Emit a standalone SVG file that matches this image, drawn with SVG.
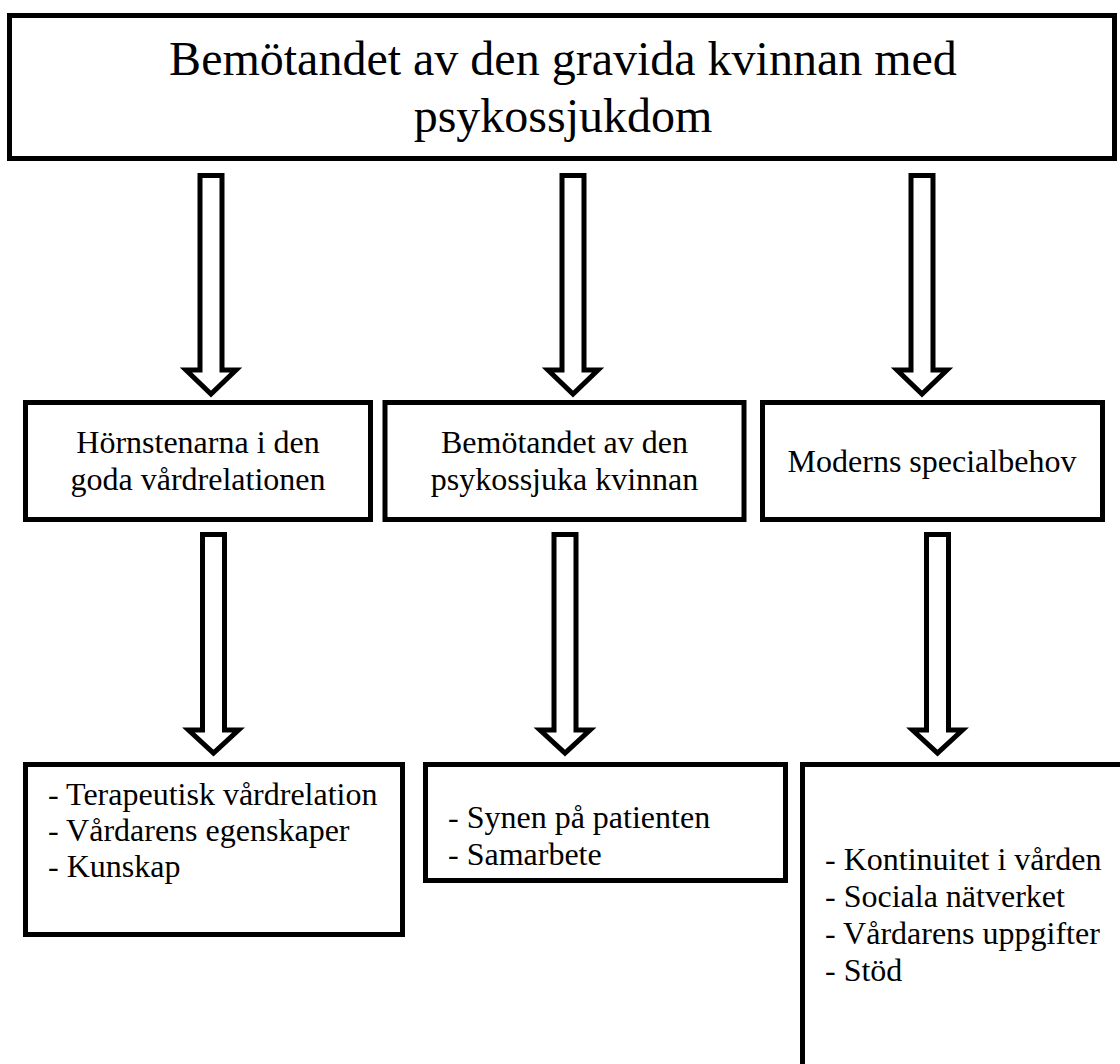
<svg xmlns="http://www.w3.org/2000/svg" width="1120" height="1064" viewBox="0 0 1120 1064">
<style>
.box{fill:#fff;stroke:#000;stroke-width:5}
.arr{fill:#fff;stroke:#000;stroke-width:5;stroke-linejoin:miter}
text{font-family:'Liberation Serif','Times New Roman',Tinos,serif;fill:#000;font-size:32px}
.c{text-anchor:middle}
.big{font-size:48px}
</style>
<rect width="1120" height="1064" fill="#fff"/>
<g id="title">
<rect class="box" x="9.5" y="15.5" width="1105" height="143"/>
<text class="big c" x="563" y="75" font-family="Liberation Serif, serif">Bemötandet av den gravida kvinnan med</text>
<text class="big c" x="563" y="132" font-family="Liberation Serif, serif">psykossjukdom</text>
</g>
<g id="connectors">
<path class="arr" d="M200,175.5H222V370H236L211,394L186,370H200Z"/>
<path class="arr" d="M562,175.5H584V370H598L573,394L548,370H562Z"/>
<path class="arr" d="M911,175.5H933V370H947L922,394L897,370H911Z"/>
<path class="arr" d="M202.5,534.5H224.5V730H238.5L213.5,753L188.5,730H202.5Z"/>
<path class="arr" d="M554,534.5H576V730H590L565,753L540,730H554Z"/>
<path class="arr" d="M926.5,534.5H948.5V730H962.5L937.5,753L912.5,730H926.5Z"/>
</g>
<g id="n1">
<rect class="box" x="25.5" y="402.5" width="345" height="117"/>
<text class="c" x="198" y="453">Hörnstenarna i den</text>
<text class="c" x="198" y="490">goda vårdrelationen</text>
</g>
<g id="n2">
<rect class="box" x="385" y="402.5" width="359" height="117"/>
<text class="c" x="564.5" y="453">Bemötandet av den</text>
<text class="c" x="564.5" y="490">psykossjuka kvinnan</text>
</g>
<g id="n3">
<rect class="box" x="762.5" y="402.5" width="340" height="117"/>
<text class="c" x="932" y="472">Moderns specialbehov</text>
</g>
<g id="n4">
<rect class="box" x="25.5" y="764.5" width="377" height="170"/>
<text x="48" y="805">- Terapeutisk vårdrelation</text>
<text x="48" y="841">- Vårdarens egenskaper</text>
<text x="48" y="877">- Kunskap</text>
</g>
<g id="n5">
<rect class="box" x="425.5" y="764.5" width="360" height="116"/>
<text x="448" y="828">- Synen på patienten</text>
<text x="448" y="865">- Samarbete</text>
</g>
<g id="n6">
<rect class="box" x="802.5" y="764.5" width="400" height="400"/>
<text x="825" y="870">- Kontinuitet i vården</text>
<text x="825" y="907">- Sociala nätverket</text>
<text x="825" y="944">- Vårdarens uppgifter</text>
<text x="825" y="981">- Stöd</text>
</g>
</svg>
